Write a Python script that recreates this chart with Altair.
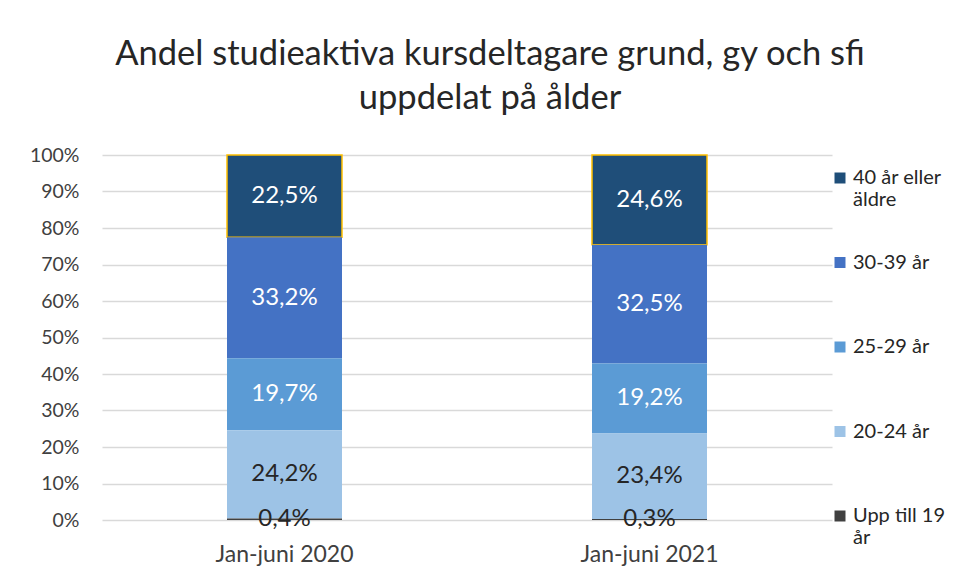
import altair as alt
import pandas as pd

periods = ["Jan-juni 2020", "Jan-juni 2021"]
age_groups = ["40 år eller äldre", "30-39 år", "25-29 år", "20-24 år", "Upp till 19 år"]
stack_rank = [4, 3, 2, 1, 0]
values_2020 = [22.5, 33.2, 19.7, 24.2, 0.4]
values_2021 = [24.6, 32.5, 19.2, 23.4, 0.3]
colors = ["#1F4E79", "#4472C4", "#5B9BD5", "#9DC3E6", "#404040"]
y_ticks = [0, 10, 20, 30, 40, 50, 60, 70, 80, 90, 100]

rows = []
for period, vals in zip(periods, [values_2020, values_2021]):
    for g, r, v in zip(age_groups, stack_rank, vals):
        rows.append({
            "period": period,
            "group": g,
            "rank": r,
            "value": v,
            "label": f"{v:.1f}".replace(".", ",") + "%",
        })
df = pd.DataFrame(rows)

FONT = "Lato"

x_axis = alt.Axis(labelAngle=0, labelFontSize=23, labelColor="#404040", labelFont=FONT,
                  domain=False, ticks=False, labelPadding=23, grid=False)
x_scale = alt.Scale(paddingInner=0, paddingOuter=0)

y_scale = alt.Scale(domain=[0, 100], nice=False)
y_axis = alt.Axis(values=y_ticks, labelExpr="datum.value + '%'", labelFontSize=19.5,
                  labelColor="#404040", labelFont=FONT, domain=False, ticks=False,
                  labelOverlap=False, tickCount=11,
                  labelPadding=23, gridColor="#D9D9D9", gridWidth=1.5)

bars = alt.Chart(df).mark_bar(size=115, strokeWidth=1.5).encode(
    x=alt.X("period:N", sort=periods, title=None, scale=x_scale, axis=x_axis),
    y=alt.Y("value:Q", stack="zero", scale=y_scale, title=None, axis=y_axis),
    color=alt.Color("group:N", sort=age_groups,
                    scale=alt.Scale(domain=age_groups, range=colors),
                    legend=alt.Legend(
                        title=None, orient="none", legendX=728, legendY=13,
                        symbolType="square", symbolSize=121, symbolStrokeWidth=0,
                        labelFontSize=20, labelFont=FONT, labelColor="#262626",
                        labelLimit=200, gridAlign="all", rowPadding=42.5, padding=0,
                        labelOffset=3,
                        labelExpr="datum.label == '40 år eller äldre' ? ['40 år eller', 'äldre'] : (datum.label == 'Upp till 19 år' ? ['Upp till 19', 'år'] : datum.label)",
                    )),
    order=alt.Order("rank:Q", sort="ascending"),
    stroke=alt.condition("datum.group == '40 år eller äldre'", alt.value("#FFC000"), alt.value("transparent")),
)

texts = alt.Chart(df).transform_stack(
    stack="value", as_=["y0", "y1"], groupby=["period"],
    sort=[alt.SortField("rank", order="ascending")],
).transform_calculate(
    mid="(datum.y0 + datum.y1) / 2"
).mark_text(fontSize=24, font=FONT, baseline="middle", align="center").encode(
    x=alt.X("period:N", sort=periods, title=None, scale=x_scale, axis=x_axis),
    y=alt.Y("mid:Q", scale=y_scale, title=None, axis=y_axis),
    text="label:N",
    fill=alt.condition("datum.rank >= 2", alt.value("white"), alt.value("#262626")),
)

chart = alt.layer(bars, texts).properties(
    width=730,
    height=365,
    padding={"left": 94, "top": 147, "right": 120, "bottom": 53},
    autosize=alt.AutoSizeParams(type="none"),
    title=alt.TitleParams(
        ["Andel studieaktiva kursdeltagare grund, gy och sfi", "uppdelat på ålder"],
        fontSize=34.5, font=FONT, fontWeight="normal", color="#262626",
        anchor="middle", dx=23, offset=29, lineHeight=44,
    ),
).configure_view(stroke=None)

chart.save("out.html", embed_options={"renderer": "svg", "actions": False})
